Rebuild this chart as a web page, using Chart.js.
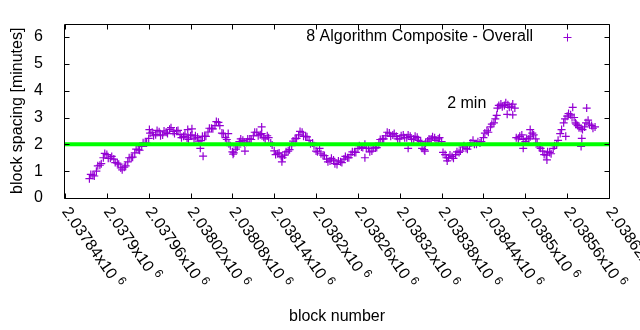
<!DOCTYPE html>
<html>
<head>
<meta charset="utf-8">
<script src="https://cdn.jsdelivr.net/npm/chart.js@4.4.0/dist/chart.umd.min.js"></script>
<style>
  html, body { margin: 0; padding: 0; background: #fff; }
</style>
</head>
<body>
<canvas id="chart" width="640" height="330"></canvas>
<script>
const FONT = '"Liberation Sans", Arial, sans-serif';

// block numbers and spacing (minutes)
const blocks = [
  2037875,2037880,2037885,2037890,2037895,2037900,2037905,2037910,2037915,2037920,
  2037925,2037930,2037935,2037940,2037945,2037950,2037955,2037960,2037965,2037970,
  2037975,2037980,2037985,2037990,2037995,2038000,2038005,2038010,2038015,2038020,
  2038025,2038030,2038035,2038040,2038045,2038050,2038055,2038060,2038065,2038070,
  2038075,2038080,2038085,2038090,2038095,2038100,2038105,2038110,2038115,2038120,
  2038125,2038130,2038135,2038140,2038145,2038150,2038155,2038160,2038165,2038170,
  2038175,2038180,2038185,2038190,2038195,2038200,2038205,2038210,2038215,2038220,
  2038225,2038230,2038235,2038240,2038245,2038250,2038255,2038260,2038265,2038270,
  2038275,2038280,2038285,2038290,2038295,2038300,2038305,2038310,2038315,2038320,
  2038325,2038330,2038335,2038340,2038345,2038350,2038355,2038360,2038365,2038370,
  2038375,2038380,2038385,2038390,2038395,2038400,2038405,2038410,2038415,2038420,
  2038425,2038430,2038435,2038440,2038445,2038450,2038455,2038460,2038465,2038470,
  2038475,2038480,2038485,2038490,2038495,2038500,2038505,2038510,2038515,2038520,
  2038525,2038530,2038535,2038540,2038545,2038550,2038555,2038560,2038565,2038570,
  2038575,2038580,2038585,2038590,2038595,2038600
];
const spacing = [
  0.72,0.85,1.0,1.22,1.5,1.62,1.48,1.45,1.3,1.12,
  1.15,1.35,1.5,1.68,1.8,1.92,2.05,2.22,2.45,2.36,
  2.47,2.35,2.45,2.56,2.48,2.5,2.36,2.3,2.24,2.32,
  2.2,2.26,2.14,2.3,2.46,2.6,2.7,2.82,2.42,2.25,
  2.02,1.72,1.82,2.1,2.15,2.08,2.2,2.32,2.45,2.36,
  2.26,2.32,2.05,1.76,1.65,1.55,1.6,1.75,1.95,2.2,
  2.35,2.45,2.3,2.15,2.05,1.75,1.85,1.6,1.45,1.38,
  1.42,1.25,1.35,1.45,1.5,1.62,1.7,1.85,1.9,2.0,
  1.85,1.75,1.86,2.05,2.2,2.32,2.42,2.35,2.3,2.2,
  2.35,2.25,2.3,2.2,2.26,2.1,1.8,2.12,2.2,2.25,
  2.2,2.1,1.62,1.5,1.55,1.62,1.7,1.9,1.85,1.95,
  2.15,2.0,2.05,2.25,2.5,2.65,2.8,3.35,3.5,3.45,
  3.48,3.4,3.35,2.2,2.35,2.1,2.2,2.42,2.2,1.9,
  1.75,1.6,1.7,1.85,2.0,2.4,2.8,3.05,3.1,3.0,
  2.7,2.6,2.65,2.9,2.7,2.65
];
// the blocks in between, spread of the band
const blocks2 = [
  2037877,2037882,2037887,2037892,2037897,2037902,2037907,2037912,2037917,2037922,
  2037927,2037932,2037937,2037942,2037947,2037952,2037957,2037962,2037967,2037972,
  2037977,2037982,2037987,2037992,2037997,2038002,2038007,2038012,2038017,2038022,
  2038027,2038032,2038037,2038042,2038047,2038052,2038057,2038062,2038067,2038072,
  2038077,2038082,2038087,2038092,2038097,2038102,2038107,2038112,2038117,2038122,
  2038127,2038132,2038137,2038142,2038147,2038152,2038157,2038162,2038167,2038172,
  2038177,2038182,2038187,2038192,2038197,2038202,2038207,2038212,2038217,2038222,
  2038227,2038232,2038237,2038242,2038247,2038252,2038257,2038262,2038267,2038272,
  2038277,2038282,2038287,2038292,2038297,2038302,2038307,2038312,2038317,2038322,
  2038327,2038332,2038337,2038342,2038347,2038352,2038357,2038362,2038367,2038372,
  2038377,2038382,2038387,2038392,2038397,2038402,2038407,2038412,2038417,2038422,
  2038427,2038432,2038437,2038442,2038447,2038452,2038457,2038462,2038467,2038472,
  2038477,2038482,2038487,2038492,2038497,2038502,2038507,2038512,2038517,2038522,
  2038527,2038532,2038537,2038542,2038547,2038552,2038557,2038562,2038567,2038572,
  2038577,2038582,2038587,2038592,2038597
];
const spacing2 = [
  0.88,0.82,1.2,1.28,1.66,1.48,1.55,1.32,1.26,1.05,
  1.2,1.5,1.52,1.82,1.78,2.06,2.05,2.42,2.32,2.52,
  2.32,2.5,2.4,2.62,2.4,2.52,2.25,2.38,2.18,2.35,
  2.32,2.12,2.3,2.3,2.6,2.58,2.85,2.7,2.4,2.18,
  1.95,1.68,1.9,2.2,2.05,2.2,2.18,2.45,2.32,2.4,
  2.2,2.25,1.98,1.62,1.68,1.5,1.72,1.8,2.12,2.22,
  2.48,2.3,2.28,2.02,1.95,1.72,1.65,1.58,1.35,1.48,
  1.28,1.38,1.32,1.55,1.5,1.72,1.7,1.95,1.88,1.85,
  1.72,1.9,1.88,2.18,2.2,2.45,2.3,2.4,2.2,2.32,
  2.25,2.35,2.18,2.3,2.15,1.85,2.05,2.2,2.28,2.15,
  2.25,1.7,1.5,1.6,1.48,1.72,1.75,1.95,1.82,2.05,
  2.0,2.1,2.1,2.42,2.45,2.75,2.95,3.45,3.4,3.55,
  3.38,3.5,2.25,2.3,2.18,2.22,2.28,2.35,2.05,1.85,
  1.62,1.72,1.65,1.95,2.15,2.55,2.95,3.15,3.0,2.8,
  2.62,2.55,2.8,2.75,2.6
];
// scattered single points away from the main band
const outlierBlocks = [2037961,2038016,2038022,2038034,2038038,2038074,2038081,2038098,2038122,2038151,
  2038270,2038332,2038356,2038388,2038459,2038474,2038482,2038497,2038507,2038531,
  2038558,2038568,2038573,2038580,2038581,2038588];
const outlierSpacing = [2.55,2.55,2.58,1.85,1.56,2.4,1.63,1.75,2.65,1.35,
  1.5,1.85,1.75,1.38,3.08,3.12,3.1,1.85,2.55,1.42,
  2.3,3.38,2.75,1.92,2.22,3.35];

const targetBlocks = [2037840, 2038620];
const targetSpacing = [2, 2];

const xTickLabels = ['2.03784','2.0379','2.03796','2.03802','2.03808','2.03814','2.0382',
  '2.03826','2.03832','2.03838','2.03844','2.0385','2.03856','2.03862'];
const seriesName = '8 Algorithm Composite - Overall';
const noteText = '2 min';
const noteBlock = 2038388;
const noteSpacing = 3.5;

const purple = '#9400d3';

const toPoints = (xs, ys) => xs.map((b, i) => ({x: b, y: ys[i]}));
const points = toPoints(blocks, spacing)
  .concat(toPoints(blocks2, spacing2))
  .concat(toPoints(outlierBlocks, outlierSpacing));
const target = toPoints(targetBlocks, targetSpacing);

// frame, inward ticks, rotated x labels, key and label like gnuplot
const gnuplotBits = {
  id: 'gnuplotBits',
  afterDraw(chart) {
    const ctx = chart.ctx;
    const a = chart.chartArea;
    const xs = chart.scales.x, ys = chart.scales.y;
    const L = Math.round(a.left) - 0.5, R = Math.round(a.right) + 0.5;
    const T = Math.round(a.top) + 0.5, B = Math.round(a.bottom) + 0.5;
    ctx.save();
    ctx.strokeStyle = '#000';
    ctx.lineWidth = 1;
    ctx.beginPath();
    ctx.rect(L, T, R - L, B - T);
    xs.ticks.forEach(t => {
      const px = Math.round(xs.getPixelForValue(t.value)) + 0.5;
      ctx.moveTo(px, B); ctx.lineTo(px, B - 5);
      ctx.moveTo(px, T); ctx.lineTo(px, T + 5);
    });
    ys.ticks.forEach(t => {
      const py = Math.round(ys.getPixelForValue(t.value)) + 0.5;
      ctx.moveTo(L, py); ctx.lineTo(L + 5, py);
      ctx.moveTo(R, py); ctx.lineTo(R - 5, py);
    });
    ctx.stroke();

    ctx.fillStyle = '#000';
    xs.ticks.forEach((t, i) => {
      const px = xs.getPixelForValue(t.value);
      ctx.save();
      ctx.translate(px, a.bottom + 11);
      ctx.rotate(55 * Math.PI / 180);
      ctx.textAlign = 'left';
      ctx.textBaseline = 'middle';
      ctx.font = '16px ' + FONT;
      const main = xTickLabels[i] + 'x10';
      ctx.fillText(main, 0, 0);
      const w = ctx.measureText(main + ' ').width;
      ctx.font = '12px ' + FONT;
      ctx.fillText('6', w, -5);
      ctx.restore();
    });

    // key
    ctx.font = '16px ' + FONT;
    ctx.textBaseline = 'middle';
    ctx.textAlign = 'right';
    ctx.fillText(seriesName, a.right - 76, a.top + 13);
    const kx = Math.round(a.right - 42) + 0.5, ky = Math.round(a.top + 13) + 0.5;
    ctx.strokeStyle = purple;
    ctx.beginPath();
    ctx.moveTo(kx - 4, ky); ctx.lineTo(kx + 4, ky);
    ctx.moveTo(kx, ky - 4); ctx.lineTo(kx, ky + 4);
    ctx.stroke();

    // label
    ctx.textAlign = 'left';
    ctx.fillText(noteText, xs.getPixelForValue(noteBlock), ys.getPixelForValue(noteSpacing));
    ctx.restore();
  }
};

Chart.defaults.font.family = FONT;
Chart.defaults.font.size = 16;
Chart.defaults.color = '#000';

new Chart(document.getElementById('chart').getContext('2d'), {
  type: 'scatter',
  data: {
    datasets: [{
      label: '2 min',
      data: target,
      showLine: true,
      borderColor: '#00ff00',
      borderWidth: 4,
      pointRadius: 0,
      order: 0
    }, {
      label: seriesName,
      data: points,
      pointStyle: 'cross',
      pointRadius: 4,
      borderWidth: 1.2,
      borderColor: purple,
      backgroundColor: purple,
      order: 1
    }]
  },
  options: {
    responsive: false,
    animation: false,
    layout: { padding: { left: 0, right: 31, top: 19, bottom: 0 } },
    plugins: { legend: { display: false }, tooltip: { enabled: false } },
    scales: {
      x: {
        type: 'linear',
        min: 2037840,
        max: 2038620,
        grid: { display: false },
        border: { display: false },
        ticks: { stepSize: 60, display: false },
        title: { display: true, text: 'block number', padding: { bottom: 4 } },
        afterFit: s => { s.height = 132; }
      },
      y: {
        min: 0,
        max: 6.5,
        grid: { display: false },
        border: { display: false },
        ticks: { stepSize: 1, includeBounds: false, padding: 14 },
        title: { display: true, text: 'block spacing [minutes]', padding: { top: 8 } },
        afterFit: s => { s.width = 65; }
      }
    }
  },
  plugins: [gnuplotBits]
});
</script>
</body>
</html>
